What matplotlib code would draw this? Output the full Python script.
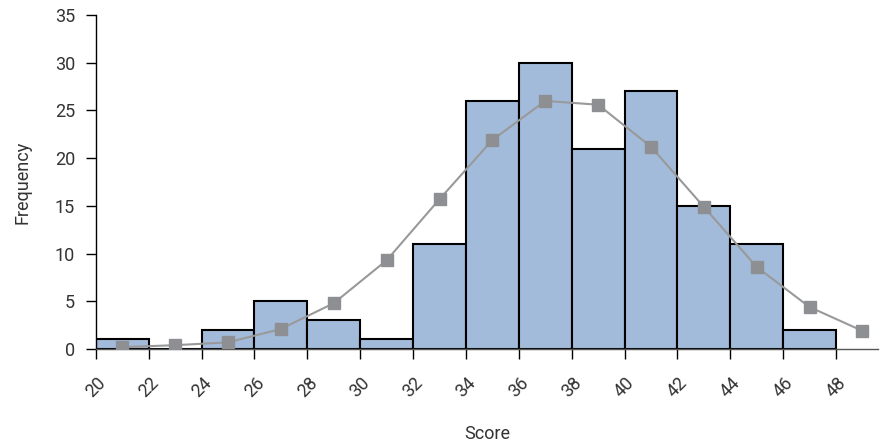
import matplotlib.pyplot as plt
import numpy as np

plt.rcParams['font.family'] = ['Roboto', 'DejaVu Sans']

bin_edges = [20, 22, 24, 26, 28, 30, 32, 34, 36, 38, 40, 42, 44, 46, 48]
counts = [1, 0, 2, 5, 3, 1, 11, 26, 30, 21, 27, 15, 11, 2]
curve_x = [21, 23, 25, 27, 29, 31, 33, 35, 37, 39, 41, 43, 45, 47, 49]
curve_y = [0.2, 0.4, 0.7, 2.1, 4.8, 9.3, 15.7, 21.9, 26.0, 25.6, 21.2, 14.9, 8.6, 4.4, 1.9]

fig = plt.figure(figsize=(8.8, 4.42), dpi=100)
ax = fig.add_axes([0.109, 0.2104, 0.889, 0.7556])

edges = np.array(bin_edges)
ax.bar(edges[:-1], counts, width=np.diff(edges), align='edge',
       color='#a3bbdb', edgecolor='black', linewidth=1.5, zorder=2)
ax.plot(curve_x, curve_y, color='#999999', linewidth=1.5, marker='s',
        markersize=9, markerfacecolor='#8e8f92', markeredgecolor='#8e8f92',
        zorder=3)

ax.set_xlim(20, 49.6)
ax.set_ylim(0, 35)
ax.set_xticks(bin_edges)
ax.set_xticklabels([str(v) for v in bin_edges], rotation=45)
ax.set_yticks(range(0, 36, 5))

for s in ['top', 'right']:
    ax.spines[s].set_visible(False)
ax.spines['left'].set_linewidth(1.0)
ax.spines['bottom'].set_linewidth(1.0)
ax.spines['bottom'].set_color('#555555')
ax.tick_params(axis='both', length=7, width=1.0, color='black',
               labelsize=13, labelcolor='#333333')
ax.tick_params(axis='x', pad=11)
ax.tick_params(axis='y', pad=8)

ax.set_xlabel('Score', fontsize=13, color='#333333', labelpad=17)
ax.set_ylabel('Frequency', fontsize=13, color='#333333', labelpad=17)

fig.savefig('out.png', dpi=100)
